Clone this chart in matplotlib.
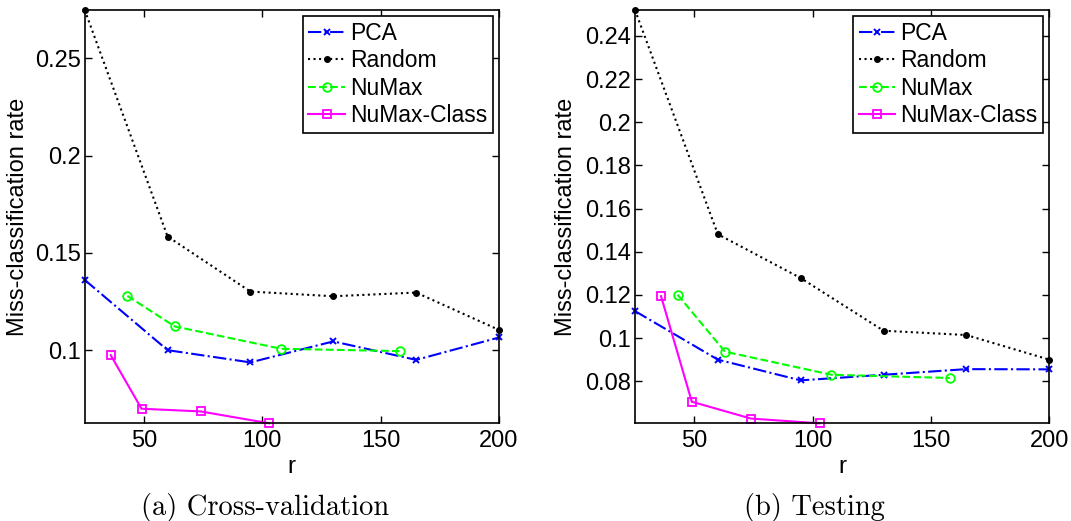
import numpy as np
import matplotlib
matplotlib.use("Agg")
import matplotlib.pyplot as plt

# valeurs
r_base = [25, 60, 95, 130, 165, 200]
r_numax = [43, 63, 108, 158]
r_class = [36, 49, 74, 103]

cv_pca = [0.1361, 0.1000, 0.0937, 0.1045, 0.0950, 0.1065]
cv_random = [0.2748, 0.1584, 0.1301, 0.1277, 0.1296, 0.1104]
cv_numax = [0.1279, 0.1122, 0.1007, 0.0995]
cv_class = [0.0974, 0.0699, 0.0685, 0.0624]

te_pca = [0.1125, 0.0900, 0.0804, 0.0830, 0.0856, 0.0855]
te_random = [0.2520, 0.1481, 0.1278, 0.1034, 0.1014, 0.0900]
te_numax = [0.1201, 0.0937, 0.0830, 0.0815]
te_class = [0.1194, 0.0705, 0.0627, 0.0605]

labels = ["PCA", "Random", "NuMax", "NuMax-Class"]
captions = ["(a) Cross-validation", "(b) Testing"]

plt.rcParams['font.family'] = ['Liberation Sans', 'DejaVu Sans']

fig = plt.figure(figsize=(10.71, 5.21), dpi=100)
ax1 = fig.add_axes([0.0791, 0.1875, 0.3868, 0.7933])
ax2 = fig.add_axes([0.5929, 0.1875, 0.3868, 0.7933])


def draw(ax, pca, rnd, nmx, cls, ylim, yticks, ytl, ylab_x):
    kw = dict(lw=1.5, clip_on=False)
    ax.plot(r_base, pca, color='#0000ff', ls='-.', marker='x', ms=5, mew=1.4,
            label=labels[0], **kw)
    ax.plot(r_base, rnd, color='k', ls=':', marker='.', ms=8,
            label=labels[1], **kw)
    ax.plot(r_numax, nmx, color='#00ff00', ls='--', marker='o', ms=6.2, mfc='none',
            mew=1.3, label=labels[2], **kw)
    ax.plot(r_class, cls, color='#ff00ff', ls='-', marker='s', ms=5.2, mfc='none',
            mew=1.3, label=labels[3], **kw)
    ax.set_xlim(25, 200)
    ax.set_ylim(*ylim)
    ax.set_xticks([50, 100, 150, 200])
    ax.set_yticks(yticks)
    ax.set_yticklabels(ytl)
    ax.tick_params(direction='in', top=True, right=True, labelsize=17, length=5,
                   width=1)
    ax.tick_params(axis='x', pad=5)
    ax.tick_params(axis='y', pad=3)
    for s in ax.spines.values():
        s.set_linewidth(1.2)
    ax.set_xlabel('r', fontsize=17.5)
    ax.xaxis.label.set_va('center')
    ax.xaxis.set_label_coords(0.5, (423.3 - 467) / 413.3)
    ax.set_ylabel('Miss-classification rate', fontsize=17)
    ax.yaxis.label.set_va('center')
    ax.yaxis.set_label_coords(ylab_x, 0.5)
    leg = ax.legend(loc='upper right', fontsize=16.5, fancybox=False, framealpha=1,
                    edgecolor='k', borderpad=0.25, labelspacing=0.2,
                    handlelength=1.6, handletextpad=0.22, borderaxespad=0.26)
    leg.get_frame().set_linewidth(1.2)


draw(ax1, cv_pca, cv_random, cv_numax, cv_class, (0.0624, 0.2748),
     [0.1, 0.15, 0.2, 0.25], ['0.1', '0.15', '0.2', '0.25'], -0.162)
draw(ax2, te_pca, te_random, te_numax, te_class, (0.0605, 0.252),
     [0.08, 0.1, 0.12, 0.14, 0.16, 0.18, 0.2, 0.22, 0.24],
     ['0.08', '0.1', '0.12', '0.14', '0.16', '0.18', '0.2', '0.22', '0.24'],
     -0.1665)

# légendes des sous-figures
fig.text(265 / 1071, 1 - 515 / 521, captions[0], ha='center', va='baseline',
         fontsize=20.5, family='cmr10')
fig.text(814 / 1071, 1 - 515 / 521, captions[1], ha='center', va='baseline',
         fontsize=20.5, family='cmr10')

fig.savefig('out.png', dpi=100)
